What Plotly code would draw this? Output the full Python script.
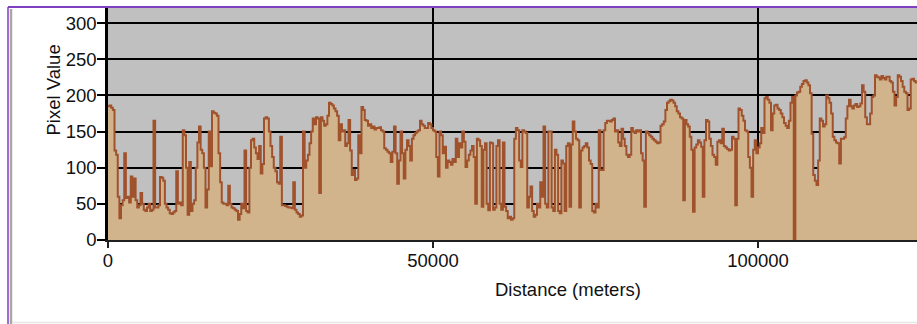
import plotly.graph_objects as go

# Sampling step along the profile (meters)
step_m = 250

# Pixel value, one sample every 250 m
pixel_value = [
    185, 186, 183, 180, 124, 118, 60, 30, 48, 55,
    120, 58, 60, 52, 88, 60, 85, 55, 45, 48,
    65, 50, 42, 40, 45, 50, 40, 42, 165, 45,
    45, 48, 87, 86, 82, 50, 45, 42, 37, 36,
    38, 40, 95, 50, 52, 48, 152, 145, 100, 35,
    108, 40, 50, 55, 100, 135, 157, 125, 120, 100,
    45, 70, 150, 102, 178, 176, 175, 172, 120, 80,
    52, 50, 50, 48, 75, 50, 45, 44, 42, 40,
    28, 36, 50, 44, 124, 40, 38, 100, 138, 140,
    128, 120, 112, 130, 92, 105, 168, 170, 168, 150,
    130, 115, 100, 95, 80, 78, 143, 48, 48, 47,
    46, 45, 45, 44, 80, 42, 38, 36, 32, 34,
    150, 100, 110, 118, 134, 150, 168, 160, 170, 168,
    65, 170, 165, 158, 160, 172, 190, 188, 186, 182,
    178, 172, 138, 160, 150, 152, 130, 134, 166, 124,
    90, 97, 83, 85, 145, 120, 184, 180, 166, 165,
    158, 160, 155, 157, 153, 155, 155, 156, 152, 150,
    127, 125, 122, 120, 108, 122, 157, 120, 78, 110,
    150, 120, 85, 125, 138, 130, 110, 140, 145, 148,
    150, 152, 165, 160, 158, 155, 155, 162, 160, 155,
    152, 150, 115, 88, 150, 145, 120, 129, 100, 110,
    108, 104, 112, 108, 140, 115, 134, 128, 150, 136,
    101, 110, 118, 124, 130, 115, 50, 140, 138, 130,
    46, 125, 134, 50, 41, 135, 134, 42, 45, 130,
    138, 50, 42, 135, 46, 40, 30, 32, 28, 30,
    140, 155, 152, 110, 101, 152, 150, 148, 45, 60,
    74, 40, 32, 35, 50, 45, 80, 60, 157, 50,
    45, 150, 150, 45, 40, 125, 118, 40, 37, 110,
    106, 40, 130, 134, 46, 132, 164, 150, 140, 138,
    45, 124, 128, 130, 134, 128, 110, 105, 40, 38,
    50, 45, 152, 97, 97, 152, 162, 165, 165, 164,
    166, 168, 150, 152, 135, 130, 154, 140, 130, 118,
    115, 118, 155, 150, 148, 152, 150, 152, 120, 110,
    46, 150, 148, 145, 143, 140, 138, 136, 134, 135,
    158, 160, 164, 180, 190, 192, 194, 193, 190, 185,
    178, 175, 170, 168, 55, 166, 160, 157, 143, 125,
    39, 128, 132, 138, 135, 129, 60, 138, 166, 164,
    140, 130, 118, 115, 104, 136, 138, 134, 154, 130,
    128, 126, 124, 125, 143, 140, 48, 140, 182, 180,
    172, 165, 152, 150, 115, 100, 60, 125, 138, 120,
    128, 134, 155, 148, 196, 198, 194, 190, 152, 175,
    186, 187, 182, 180, 175, 170, 162, 158, 155, 165,
    190, 198, 0, 200, 204, 205, 212, 216, 220, 221,
    218, 214, 203, 147, 90, 82, 76, 110, 168, 165,
    157, 160, 200, 196, 190, 175, 143, 138, 135, 134,
    106, 140, 140, 142, 168, 185, 194, 185, 182, 186,
    188, 184, 185, 189, 214, 205, 170, 160, 160, 175,
    198, 200, 228, 226, 225, 222, 227, 224, 222, 226,
    226, 220, 218, 205, 186, 198, 228, 226, 220, 212,
    205, 203, 180, 182, 222, 223, 220, 218, 218, 217,
]
distance_m = [i * step_m for i in range(len(pixel_value))]

y_ticks = [0, 50, 100, 150, 200, 250, 300]
x_ticks = [0, 50000, 100000]
x_tick_labels = ["0", "50000", "100000"]

W, H = 917, 324
L, R, T, B = 108, 0, 8, 84
pw, ph = W - L - R, H - T - B

def px(xp):
    return (xp - L) / pw

def py(yp):
    return (H - B - yp) / ph

FONT = "Liberation Sans, Arial, sans-serif"
fs = 18.5

fig = go.Figure()
fig.add_trace(go.Scatter(
    x=distance_m, y=pixel_value,
    mode="lines", line=dict(color="#A0522D", width=2, shape="hv"),
    fill="tozeroy", fillcolor="#D2B48C",
    hoverinfo="skip", showlegend=False,
))

fig.update_layout(
    width=W, height=H,
    margin=dict(l=L, r=R, t=T, b=B, pad=0),
    paper_bgcolor="white", plot_bgcolor="#C0C0C0",
    font=dict(family=FONT, size=fs, color="#111111"),
    showlegend=False,
    xaxis=dict(
        range=[0, (W - L) / 325 * 50000], tickmode="array",
        tickvals=x_ticks, ticktext=x_tick_labels,
        showgrid=True, gridcolor="#000000", gridwidth=1.5,
        zeroline=False, showline=True, linecolor="#202020", linewidth=1.5,
        ticks="outside", ticklen=6, tickwidth=1.5, tickcolor="#202020",
        ticklabelstandoff=-3,
        automargin=False, fixedrange=True,
    ),
    yaxis=dict(
        range=[0, 321], tickmode="array", tickvals=y_ticks,
        showgrid=True, gridcolor="#000000", gridwidth=1.5,
        zeroline=False, showline=True, linecolor="#000000", linewidth=2.5,
        ticks="outside", ticklen=8, tickwidth=1.5, tickcolor="#000000",
        ticklabelstandoff=-3,
        automargin=False, fixedrange=True,
    ),
    annotations=[
        dict(text="Pixel Value", x=px(40), y=py(90), xref="paper", yref="paper",
             showarrow=False, textangle=-90, font=dict(size=fs, family=FONT, color="#111111")),
        dict(text="Distance (meters)", x=px(568), y=py(302), xref="paper", yref="paper",
             showarrow=False, font=dict(size=fs, family=FONT, color="#111111")),
    ],
    shapes=[
        dict(type="line", xref="paper", yref="paper", x0=px(8), x1=px(917), y0=py(7), y1=py(7),
             line=dict(color="#7F3FBF", width=2)),
        dict(type="line", xref="paper", yref="paper", x0=px(8), x1=px(8), y0=py(7), y1=py(324),
             line=dict(color="#7F3FBF", width=1.5)),
        dict(type="line", xref="paper", yref="paper", x0=px(11), x1=px(11), y0=py(9), y1=py(324),
             line=dict(color="#A8A8A8", width=2.5)),
        dict(type="line", xref="paper", yref="paper", x0=px(12), x1=px(917), y0=py(322.5), y1=py(322.5),
             line=dict(color="#E6E6E6", width=1.5)),
    ],
)

fig.write_html(
    "out.html",
    config={"displayModeBar": False},
    post_script="document.body.style.margin='0';document.body.style.overflow='hidden';",
)
